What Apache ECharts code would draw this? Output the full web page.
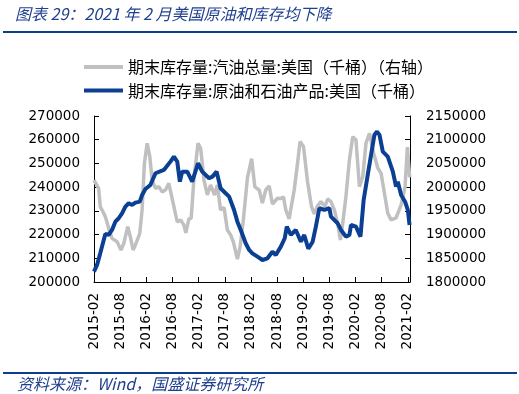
<!DOCTYPE html>
<html>
<head>
<meta charset="utf-8">
<script src="https://cdn.jsdelivr.net/npm/echarts@6/dist/echarts.min.js"></script>
<style>
html,body{margin:0;padding:0;background:#fff;}
#chart{width:519px;height:394px;}
</style>
</head>
<body>
<div id="chart"></div>
<script>
// ---- data ----
const titleText = '图表 29：2021 年 2 月美国原油和库存均下降';
const sourceText = '资料来源：Wind，国盛证券研究所';
const seriesNames = ['期末库存量:汽油总量:美国（千桶）（右轴）', '期末库存量:原油和石油产品:美国（千桶）'];

const gasDates = ['2015-02-01','2015-02-10','2015-03-03','2015-03-14','2015-04-08','2015-04-19','2015-05-06','2015-05-15','2015-06-05','2015-07-10',
'2015-08-07','2015-08-26','2015-09-23','2015-10-11','2015-10-30','2015-11-16','2015-12-16','2016-01-02','2016-01-18','2016-02-07',
'2016-02-25','2016-03-11','2016-04-04','2016-04-27','2016-05-20','2016-06-13','2016-07-06','2016-07-17','2016-08-11','2016-09-04',
'2016-09-27','2016-10-20','2016-11-03','2016-11-24','2016-12-10','2016-12-29','2017-01-27','2017-02-15','2017-03-08','2017-04-01',
'2017-04-23','2017-05-21','2017-06-10','2017-07-02','2017-07-26','2017-08-19','2017-09-12','2017-09-30','2017-10-28','2017-11-17',
'2017-12-09','2018-01-07','2018-02-06','2018-02-28','2018-03-28','2018-04-20','2018-05-13','2018-06-07','2018-06-29','2018-08-04',
'2018-08-28','2018-09-15','2018-10-01','2018-10-24','2018-11-29','2018-12-22','2019-01-09','2019-02-03','2019-03-01','2019-03-28',
'2019-04-17','2019-05-10','2019-06-03','2019-06-30','2019-07-19','2019-08-12','2019-09-05','2019-09-28','2019-10-17','2019-11-03',
'2019-11-25','2019-12-19','2020-01-12','2020-02-04','2020-02-28','2020-03-21','2020-04-13','2020-05-07','2020-06-06','2020-07-04',
'2020-07-27','2020-08-20','2020-09-13','2020-10-06','2020-11-10','2020-12-15','2021-01-12','2021-01-28','2021-02-10','2021-02-14'];
const gasValues = [243000,243700,239500,231800,229000,227500,224000,221900,218400,217000,
213500,216300,223300,219100,213500,215600,220500,230400,250100,258500,
252900,243000,239500,240200,238000,238800,241600,240900,231800,225300,
226200,224000,220700,226600,226900,243700,258500,256400,243000,236700,
240900,236700,240900,230400,231400,221900,219800,216900,209700,214900,
226200,243900,252000,240100,238800,233300,238800,240500,232900,235300,
235200,235900,230400,226600,238800,250100,259200,257100,242200,231800,
228700,232100,233900,231800,235000,233900,230400,224800,217700,224800,
236000,251500,261300,259900,240200,244400,258500,262700,254300,248100,
245800,237400,229000,226200,227000,232500,240200,256900,257100,244100];

const crudeDates = ['2015-02-01','2015-02-22','2015-03-14','2015-04-08','2015-04-19','2015-05-12','2015-06-05','2015-06-28','2015-07-21','2015-08-14',
'2015-09-07','2015-09-30','2015-10-23','2015-11-16','2015-12-16','2016-01-02','2016-01-25','2016-02-29','2016-04-04','2016-06-02',
'2016-07-17','2016-08-11','2016-09-04','2016-09-22','2016-10-08','2016-11-13','2016-12-17','2017-01-27','2017-02-26','2017-04-13',
'2017-05-06','2017-06-05','2017-07-02','2017-08-07','2017-08-31','2017-10-05','2017-10-28','2017-11-21','2017-12-25','2018-01-19',
'2018-02-11','2018-03-16','2018-04-20','2018-05-25','2018-06-29','2018-07-22','2018-08-27','2018-09-24','2018-10-08','2018-11-06',
'2018-12-10','2019-01-15','2019-02-08','2019-03-06','2019-04-06','2019-04-28','2019-05-22','2019-06-26','2019-07-31','2019-08-12',
'2019-09-28','2019-10-21','2019-11-25','2019-12-19','2019-12-30','2020-02-04','2020-03-05','2020-03-27','2020-04-25','2020-05-18',
'2020-06-11','2020-06-29','2020-07-16','2020-08-09','2020-09-13','2020-10-18','2020-11-10','2020-11-22','2020-12-15','2021-01-12',
'2021-02-01','2021-02-13'];
const crudeValues = [1822000,1836000,1860500,1888600,1901300,1899200,1909700,1927200,1934400,1944900,
1958900,1966000,1962400,1967300,1969400,1983500,1996200,2004600,2029300,2036300,
2053800,2064300,2053800,2011600,2032700,2032700,2011600,2050400,2032700,2018800,
2022200,2032700,1997700,1987100,1980000,1951900,1927200,1909700,1881600,1867500,
1860500,1853400,1846400,1850000,1863900,1857000,1874500,1892200,1916700,1899200,
1909700,1885000,1899200,1870000,1885000,1916700,1955500,1951900,1955500,1937800,
1923800,1909700,1895600,1899200,1920300,1916700,1895600,1973000,2025700,2067900,
2110100,2117100,2110100,2074900,2064300,2032700,2001100,2011600,1983500,1969400,
1951900,1920300];

// ---- helpers ----
function monthIndex(s){
  const p = s.split('-').map(Number);
  return (p[0]-2015)*12 + (p[1]-2) + (p[2]-1)/30;
}
function monthLabel(v){
  if (Math.abs(v - Math.round(v)) > 1e-6 || Math.round(v) % 6 !== 0) return '';
  const t = 1 + Math.round(v);
  const y = 2015 + Math.floor(t/12);
  const m = t % 12 + 1;
  return y + '-' + (m < 10 ? '0' + m : m);
}
function plain(v){ return String(v); }

const chart = echarts.init(document.getElementById('chart'), null, {renderer:'canvas'});
const cjk = '"Noto Sans CJK SC", "Noto Sans", sans-serif';
const num = '"DejaVu Sans", sans-serif';
const dark = '#1f3f8f';
const lineIcon = 'path://M0 0H39V4H0Z';

chart.setOption({
  animation:false,
  backgroundColor:'#fff',
  grid:{left:94, right:109, top:116, bottom:112, containLabel:false},
  legend:{
    orient:'vertical', left:79, top:54, itemWidth:39, itemHeight:16, itemGap:7.5,
    symbolKeepAspect:true,
    textStyle:{fontFamily:cjk, fontSize:16, color:'#000', lineHeight:16},
    data:[{name:seriesNames[0], icon:lineIcon}, {name:seriesNames[1], icon:lineIcon}]
  },
  xAxis:{
    type:'value', min:0, max:72.5, interval:6,
    axisLine:{lineStyle:{color:'#000', width:1}},
    axisTick:{inside:true, length:5, lineStyle:{color:'#000'}},
    axisLabel:{rotate:90, margin:11, fontFamily:num, fontSize:13.5, color:'#000', formatter:monthLabel, showMaxLabel:false},
    splitLine:{show:false}
  },
  yAxis:[
    {type:'value', min:200000, max:270000, interval:10000, position:'left',
     axisLine:{show:true, lineStyle:{color:'#000'}},
     axisTick:{show:true, inside:true, length:5, lineStyle:{color:'#000'}},
     axisLabel:{margin:14, fontFamily:num, fontSize:13.5, color:'#000', formatter:plain},
     splitLine:{show:false}},
    {type:'value', min:1800000, max:2150000, interval:50000, position:'right',
     axisLine:{show:true, lineStyle:{color:'#000'}},
     axisTick:{show:true, inside:true, length:5, lineStyle:{color:'#000'}},
     axisLabel:{margin:16, fontFamily:num, fontSize:13.5, color:'#000', formatter:plain},
     splitLine:{show:false}}
  ],
  series:[
    {name:seriesNames[0], type:'line', yAxisIndex:0, showSymbol:false, symbol:'none',
     lineStyle:{color:'#c0c0c0', width:3.5}, itemStyle:{color:'#c0c0c0'},
     data:gasDates.map((d,i)=>[monthIndex(d), gasValues[i]])},
    {name:seriesNames[1], type:'line', yAxisIndex:1, showSymbol:false, symbol:'none',
     lineStyle:{color:'#0a3f94', width:4}, itemStyle:{color:'#0a3f94'},
     data:crudeDates.map((d,i)=>[monthIndex(d), crudeValues[i]])}
  ],
  graphic:[
    {type:'text', left:15, top:6, style:{text:titleText, fill:dark, font:'italic 16px ' + cjk}},
    {type:'rect', shape:{x:3, y:31, width:514, height:2}, style:{fill:'#0d3d8e'}},
    {type:'rect', shape:{x:3, y:372, width:514, height:2}, style:{fill:'#0d3d8e'}},
    {type:'text', left:17, top:376, style:{text:sourceText, fill:dark, font:'italic 16px ' + cjk}}
  ]
});
</script>
</body>
</html>
